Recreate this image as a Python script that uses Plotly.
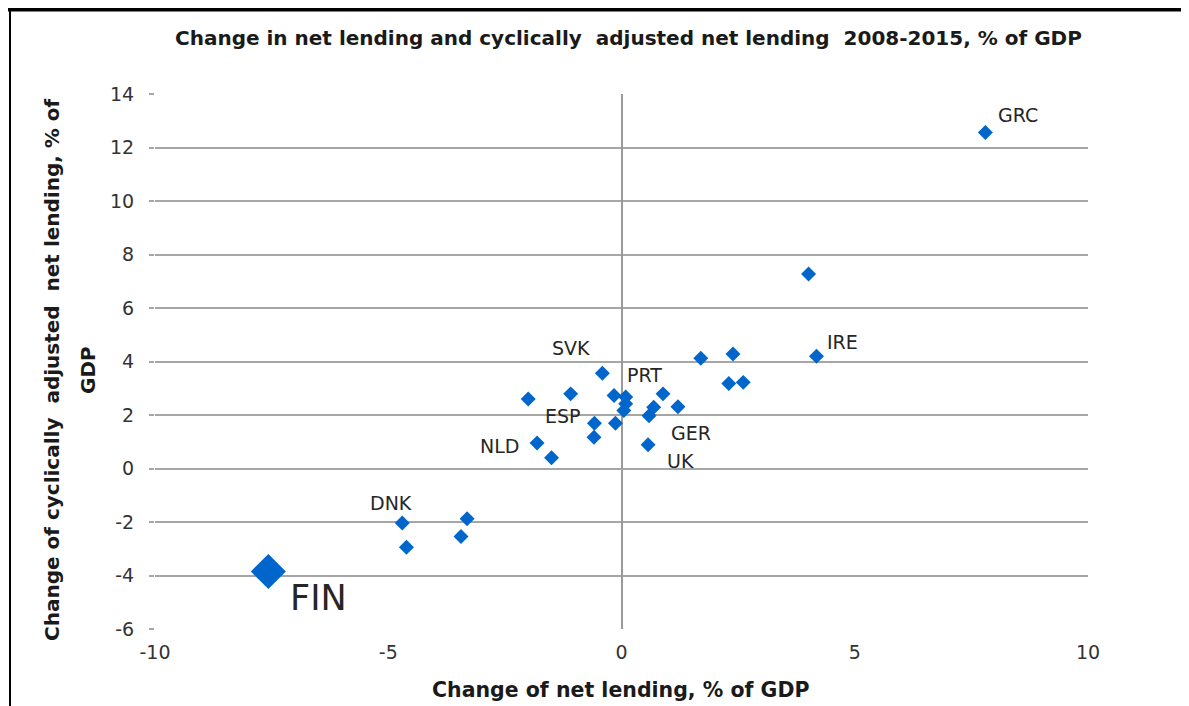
import plotly.graph_objects as go

# Data
x_vals = [7.80, 4.01, 4.18, 2.39, 1.70, 2.30, 2.61, 1.21, 0.89, 0.69, 0.59,
          0.09, 0.09, 0.05, -0.16, -0.13, -0.41, -1.09, -2.00, -0.58, -0.59,
          -1.81, -1.50, 0.57, -4.70, -4.61, -3.31, -3.44]
y_vals = [12.56, 7.27, 4.20, 4.28, 4.12, 3.18, 3.22, 2.31, 2.79, 2.29, 1.97,
          2.67, 2.42, 2.17, 2.73, 1.69, 3.56, 2.79, 2.60, 1.69, 1.17,
          0.95, 0.40, 0.89, -2.04, -2.94, -1.88, -2.54]
labels = ["GRC", "", "IRE", "", "", "", "", "GER", "", "", "",
          "PRT", "", "", "", "", "SVK", "", "", "ESP", "",
          "NLD", "", "UK", "DNK", "", "", ""]

fin_x = [-7.57]
fin_y = [-3.85]
fin_label = ["FIN"]

x_ticks = [-10, -5, 0, 5, 10]
x_tick_text = ["-10", "-5", "0", "5", "10"]
y_ticks = [-6, -4, -2, 0, 2, 4, 6, 8, 10, 12, 14]
y_tick_text = ["-6", "-4", "-2", "0", "2", "4", "6", "8", "10", "12", "14"]

title_text = "Change in net lending and cyclically\u00a0 adjusted net lending\u00a0 2008-2015, % of GDP"
x_title = "Change of net lending, % of GDP"
y_title_1 = "Change of cyclically\u00a0 adjusted\u00a0 net lending, % of"
y_title_2 = "GDP"

# label pixel offsets (style)
offsets = {"GRC": (33, 18), "IRE": (26, 14), "SVK": (-31, 25), "PRT": (19, 22),
           "ESP": (-31, 7), "NLD": (-38, -3), "GER": (13, -26), "UK": (32, -16),
           "DNK": (-11, 20)}

BLUE = "#0066cc"
GRID = "#a6a6a6"
TXT = "#1a1a1a"

W, H = 1181, 698
L, T = 147, 86
PR, PB = 1080, 621
R, B = W - PR, H - PB
pw, ph = PR - L, PB - T

def pxx(px):
    return (px - L) / pw

def pxy(py):
    return (PB - py) / ph

fig = go.Figure()
fig.add_trace(go.Scatter(x=x_vals, y=y_vals, mode="markers",
                         marker=dict(symbol="diamond", size=11.5, color=BLUE),
                         hoverinfo="x+y", showlegend=False))
fig.add_trace(go.Scatter(x=fin_x, y=fin_y, mode="markers",
                         marker=dict(symbol="diamond", size=27, color=BLUE),
                         showlegend=False))

annotations = []
for xv, yv, lab in zip(x_vals, y_vals, labels):
    if lab:
        dx, dy = offsets[lab]
        annotations.append(dict(x=xv, y=yv, text=lab, showarrow=False,
                                xshift=dx, yshift=dy,
                                font=dict(family="DejaVu Sans", size=19, color="#262626")))
annotations.append(dict(x=fin_x[0], y=fin_y[0], text=fin_label[0], showarrow=False,
                        xshift=50, yshift=-27,
                        font=dict(family="DejaVu Sans", size=35, color="#262626")))
# axis titles
annotations.append(dict(xref="paper", yref="paper", x=pxx(44), y=pxy(362),
                        xanchor="center", yanchor="middle", textangle=-90,
                        text=y_title_1, showarrow=False,
                        font=dict(family="DejaVu Sans", size=20, color=TXT, weight="bold")))
annotations.append(dict(xref="paper", yref="paper", x=pxx(80), y=pxy(362),
                        xanchor="center", yanchor="middle", textangle=-90,
                        text=y_title_2, showarrow=False,
                        font=dict(family="DejaVu Sans", size=20, color=TXT, weight="bold")))
annotations.append(dict(xref="paper", yref="paper", x=pxx(612), y=pxy(682),
                        xanchor="center", yanchor="middle",
                        text=x_title, showarrow=False,
                        font=dict(family="DejaVu Sans", size=20.5, color=TXT, weight="bold")))
annotations.append(dict(xref="paper", yref="paper", x=pxx(620), y=pxy(30),
                        xanchor="center", yanchor="middle",
                        text=title_text, showarrow=False,
                        font=dict(family="DejaVu Sans", size=20, color=TXT, weight="bold")))

shapes = [
    dict(type="line", xref="paper", yref="paper",
         x0=pxx(0), x1=pxx(W), y0=pxy(1.5), y1=pxy(1.5),
         line=dict(color="black", width=4)),
    dict(type="line", xref="paper", yref="paper",
         x0=pxx(2), x1=pxx(2), y0=pxy(0), y1=pxy(H),
         line=dict(color="black", width=2)),
]

fig.update_layout(
    width=W, height=H,
    margin=dict(l=L, r=R, t=T, b=B, autoexpand=False),
    paper_bgcolor="white", plot_bgcolor="white",
    xaxis=dict(range=[-10, 10], tickvals=x_ticks, ticktext=x_tick_text, showgrid=False,
               zeroline=True, zerolinecolor="#9a9a9a", zerolinewidth=2,
               showline=False, ticks="", ticklabelstandoff=10,
               tickfont=dict(family="DejaVu Sans", size=19, color="#333333")),
    yaxis=dict(range=[-6, 14], tickvals=y_ticks, ticktext=y_tick_text,
               showgrid=True, gridcolor=GRID, gridwidth=2,
               zeroline=True, zerolinecolor=GRID, zerolinewidth=2,
               showline=False, ticks="outside", ticklen=5, tickcolor=GRID, tickwidth=1.5,
               ticklabelstandoff=11,
               tickfont=dict(family="DejaVu Sans", size=19, color="#333333")),
    annotations=annotations,
    shapes=shapes,
)

fig.write_html("out.html")
